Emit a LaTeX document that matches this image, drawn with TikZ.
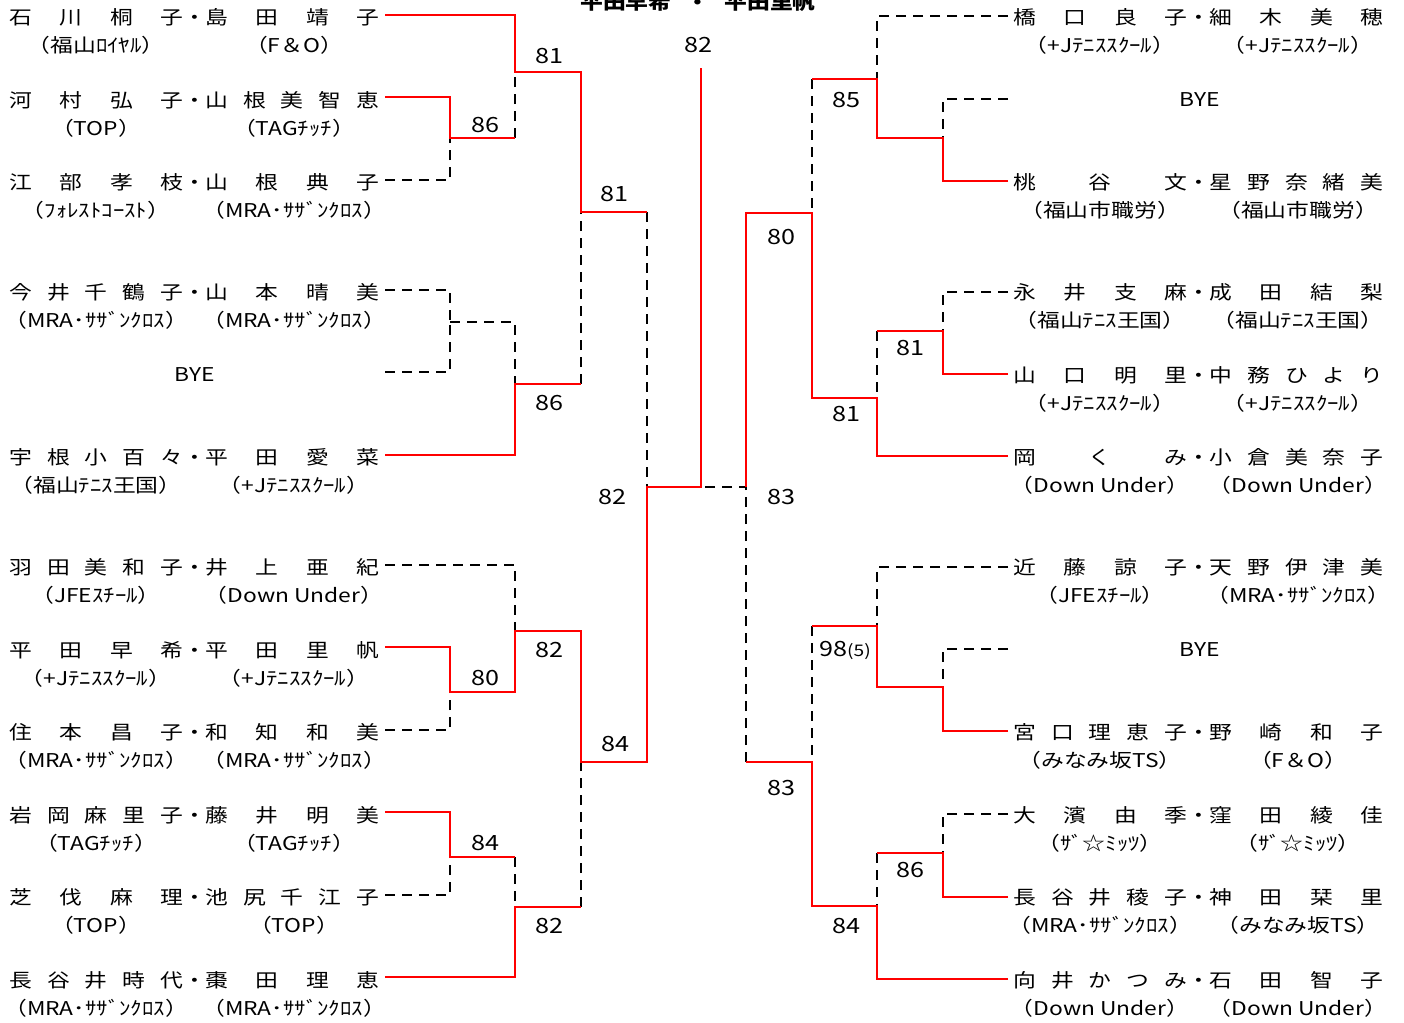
\documentclass[tikz,border=0pt]{standalone}
\usepackage{fontspec}
\setmainfont{Noto Sans CJK JP}[FakeStretch=1.2]
\usetikzlibrary{positioning}

\def\spreadnm#1{\spreadnmA#1\relax}
\def\spreadnmA#1#2{#1\ifx\relax#2\else\hfill\expandafter\spreadnmA\expandafter#2\fi}
\newcommand{\duo}[2]{\makebox[87pt][s]{\spreadnm{#1}}\makebox[11pt]{・}\makebox[87pt][s]{\spreadnm{#2}}}

\begin{document}
\begin{tikzpicture}[x=0.5pt, y=-0.5pt,
    won/.style={red, line width=1pt},
    lost/.style={black, line width=1pt, dash pattern=on 5pt off 3.5pt},
    pair/.style={anchor=west, inner sep=0pt, font=\fontsize{9.5}{10}\selectfont},
    club/.style={inner sep=0pt, font=\fontsize{9.5}{10}\selectfont},
    score/.style={inner sep=0pt, font=\fontsize{10.5}{12}\selectfont}]
  \useasboundingbox (0,0) rectangle (1404,1023);

  \node[inner sep=0pt, anchor=base, font=\fontsize{9.5}{10}\selectfont\bfseries] (title) at (698,9) {平田早希\hspace{0.8em}・\hspace{0.8em}平田里帆};

  % left half
  \node[pair] (pL1) at (9,17) {\duo{石川桐子}{島田靖子}};
  \node[club] (kL1a) at (96,45) {（福山ﾛｲﾔﾙ）};
  \node[club] (kL1b) at (294,45) {（F＆O）};
  \node[pair] (pL2) at (9,100) {\duo{河村弘子}{山根美智恵}};
  \node[club] (kL2a) at (96,128) {（TOP）};
  \node[club] (kL2b) at (294,128) {（TAGﾁｯﾁ）};
  \node[pair] (pL3) at (9,182) {\duo{江部孝枝}{山根典子}};
  \node[club] (kL3a) at (96,210) {（ﾌｫﾚｽﾄｺｰｽﾄ）};
  \node[club] (kL3b) at (294,210) {（MRA･ｻｻﾞﾝｸﾛｽ）};
  \node[pair] (pL4) at (9,292) {\duo{今井千鶴子}{山本晴美}};
  \node[club] (kL4a) at (96,320) {（MRA･ｻｻﾞﾝｸﾛｽ）};
  \node[club] (kL4b) at (294,320) {（MRA･ｻｻﾞﾝｸﾛｽ）};
  \node[club] (byeL5) at (195,375) {BYE};
  \node[pair] (pL6) at (9,457) {\duo{宇根小百々}{平田愛菜}};
  \node[club] (kL6a) at (96,485) {（福山ﾃﾆｽ王国）};
  \node[club] (kL6b) at (294,485) {（+Jﾃﾆｽｽｸｰﾙ）};
  \node[pair] (pL7) at (9,567) {\duo{羽田美和子}{井上亜紀}};
  \node[club] (kL7a) at (96,595) {（JFEｽﾁｰﾙ）};
  \node[club] (kL7b) at (294,595) {（Down Under）};
  \node[pair] (pL8) at (9,650) {\duo{平田早希}{平田里帆}};
  \node[club] (kL8a) at (96,678) {（+Jﾃﾆｽｽｸｰﾙ）};
  \node[club] (kL8b) at (294,678) {（+Jﾃﾆｽｽｸｰﾙ）};
  \node[pair] (pL9) at (9,732) {\duo{住本昌子}{和知和美}};
  \node[club] (kL9a) at (96,760) {（MRA･ｻｻﾞﾝｸﾛｽ）};
  \node[club] (kL9b) at (294,760) {（MRA･ｻｻﾞﾝｸﾛｽ）};
  \node[pair] (pL10) at (9,815) {\duo{岩岡麻里子}{藤井明美}};
  \node[club] (kL10a) at (96,843) {（TAGﾁｯﾁ）};
  \node[club] (kL10b) at (294,843) {（TAGﾁｯﾁ）};
  \node[pair] (pL11) at (9,897) {\duo{芝伐麻理}{池尻千江子}};
  \node[club] (kL11a) at (96,925) {（TOP）};
  \node[club] (kL11b) at (294,925) {（TOP）};
  \node[pair] (pL12) at (9,980) {\duo{長谷井時代}{棗田理恵}};
  \node[club] (kL12a) at (96,1008) {（MRA･ｻｻﾞﾝｸﾛｽ）};
  \node[club] (kL12b) at (294,1008) {（MRA･ｻｻﾞﾝｸﾛｽ）};

  % right half
  \node[pair] (pR1) at (1013,17) {\duo{橋口良子}{細木美穂}};
  \node[club] (kR1a) at (1100,45) {（+Jﾃﾆｽｽｸｰﾙ）};
  \node[club] (kR1b) at (1298,45) {（+Jﾃﾆｽｽｸｰﾙ）};
  \node[club] (byeR2) at (1200,100) {BYE};
  \node[pair] (pR3) at (1013,182) {\duo{桃谷文}{星野奈緒美}};
  \node[club] (kR3a) at (1100,210) {（福山市職労）};
  \node[club] (kR3b) at (1298,210) {（福山市職労）};
  \node[pair] (pR4) at (1013,292) {\duo{永井支麻}{成田結梨}};
  \node[club] (kR4a) at (1100,320) {（福山ﾃﾆｽ王国）};
  \node[club] (kR4b) at (1298,320) {（福山ﾃﾆｽ王国）};
  \node[pair] (pR5) at (1013,375) {\duo{山口明里}{中務ひより}};
  \node[club] (kR5a) at (1100,403) {（+Jﾃﾆｽｽｸｰﾙ）};
  \node[club] (kR5b) at (1298,403) {（+Jﾃﾆｽｽｸｰﾙ）};
  \node[pair] (pR6) at (1013,457) {\duo{岡くみ}{小倉美奈子}};
  \node[club] (kR6a) at (1100,485) {（Down Under）};
  \node[club] (kR6b) at (1298,485) {（Down Under）};
  \node[pair] (pR7) at (1013,567) {\duo{近藤諒子}{天野伊津美}};
  \node[club] (kR7a) at (1100,595) {（JFEｽﾁｰﾙ）};
  \node[club] (kR7b) at (1298,595) {（MRA･ｻｻﾞﾝｸﾛｽ）};
  \node[club] (byeR8) at (1200,650) {BYE};
  \node[pair] (pR9) at (1013,732) {\duo{宮口理恵子}{野崎和子}};
  \node[club] (kR9a) at (1100,760) {（みなみ坂TS）};
  \node[club] (kR9b) at (1298,760) {（F＆O）};
  \node[pair] (pR10) at (1013,815) {\duo{大濱由季}{窪田綾佳}};
  \node[club] (kR10a) at (1100,843) {（ｻﾞ☆ﾐｯﾂ）};
  \node[club] (kR10b) at (1298,843) {（ｻﾞ☆ﾐｯﾂ）};
  \node[pair] (pR11) at (1013,897) {\duo{長谷井稜子}{神田栞里}};
  \node[club] (kR11a) at (1100,925) {（MRA･ｻｻﾞﾝｸﾛｽ）};
  \node[club] (kR11b) at (1298,925) {（みなみ坂TS）};
  \node[pair] (pR12) at (1013,980) {\duo{向井かつみ}{石田智子}};
  \node[club] (kR12a) at (1100,1008) {（Down Under）};
  \node[club] (kR12b) at (1298,1008) {（Down Under）};

  % line ends and match points
  \coordinate (l1) at (385,15);   \coordinate (l2) at (385,97);   \coordinate (l3) at (385,180);
  \coordinate (l4) at (385,290);  \coordinate (l5) at (385,372);  \coordinate (l6) at (385,455);
  \coordinate (l7) at (385,565);  \coordinate (l8) at (385,647);  \coordinate (l9) at (385,730);
  \coordinate (l10) at (385,812); \coordinate (l11) at (385,895); \coordinate (l12) at (385,977);
  \coordinate (r1) at (1008,16);   \coordinate (r2) at (1008,99);   \coordinate (r3) at (1008,181);
  \coordinate (r4) at (1008,292);  \coordinate (r5) at (1008,374);  \coordinate (r6) at (1008,456);
  \coordinate (r7) at (1008,567);  \coordinate (r8) at (1008,649);  \coordinate (r9) at (1008,731);
  \coordinate (r10) at (1008,814); \coordinate (r11) at (1008,897); \coordinate (r12) at (1008,979);

  \coordinate (mA) at (450,138); \coordinate (mB) at (515,72);  \coordinate (mC) at (450,322);
  \coordinate (mD) at (515,384); \coordinate (mE) at (581,212); \coordinate (mF) at (450,692);
  \coordinate (mG) at (515,631); \coordinate (mH) at (450,857); \coordinate (mI) at (515,907);
  \coordinate (mJ) at (581,762); \coordinate (mK) at (647,487);
  \coordinate (nA) at (943,138); \coordinate (nB) at (877,79);  \coordinate (nC) at (943,331);
  \coordinate (nD) at (877,398); \coordinate (nE) at (812,213); \coordinate (nF) at (943,687);
  \coordinate (nG) at (877,626); \coordinate (nH) at (943,853); \coordinate (nI) at (877,906);
  \coordinate (nJ) at (812,762); \coordinate (nK) at (746,487);
  \coordinate (fin) at (701,487); \coordinate (champ) at (701,68);

  % beaten
  \draw[lost] (l3) -| (mA);
  \draw[lost] (mA -| mB) -- (mB);
  \draw[lost] (l4) -| (mC);
  \draw[lost] (l5) -| (mC);
  \draw[lost] (mC) -- (mC -| mD) -- (mD);
  \draw[lost] (mD -| mE) -- (mE);
  \draw[lost] (mE -| mK) -- (mK);
  \draw[lost] (l7) -| (mG);
  \draw[lost] (l9) -| (mF);
  \draw[lost] (l11) -| (mH);
  \draw[lost] (mH -| mI) -- (mI);
  \draw[lost] (mI -| mJ) -- (mJ);
  \draw[lost] (r1) -| (nB);
  \draw[lost] (r2) -| (nA);
  \draw[lost] (nB -| nE) -- (nE);
  \draw[lost] (r4) -| (nC);
  \draw[lost] (nC -| nD) -- (nD);
  \draw[lost] (r7) -| (nG);
  \draw[lost] (r8) -| (nF);
  \draw[lost] (nG -| nJ) -- (nJ);
  \draw[lost] (r10) -| (nH);
  \draw[lost] (nH -| nI) -- (nI);
  \draw[lost] (nJ -| nK) -- (nK) -- (fin);

  % winners
  \draw[won] (l2) -| (mA) -- (mA -| mB);
  \draw[won] (l1) -| (mB) -| (mE) -- (mE -| mK);
  \draw[won] (l6) -| (mD) -- (mD -| mE);
  \draw[won] (l8) -| (mF) -| (mG) -| (mJ) -| (mK) -- (fin) -- (champ);
  \draw[won] (l10) -| (mH) -- (mH -| mI);
  \draw[won] (l12) -| (mI) -- (mI -| mJ);
  \draw[won] (r3) -| (nA) -| (nB) -- (nB -| nE);
  \draw[won] (r5) -| (nC) -- (nC -| nD);
  \draw[won] (r6) -| (nD) -| (nE) -| (nK);
  \draw[won] (r9) -| (nF) -| (nG) -- (nG -| nJ);
  \draw[won] (r11) -| (nH) -- (nH -| nI);
  \draw[won] (r12) -| (nI) -| (nJ) -- (nJ -| nK);

  % scores
  \node[score] (sA) at (485,125) {86};
  \node[score] (sB) at (549,56) {81};
  \node[score] (sE) at (614,194) {81};
  \node[score] (sD) at (549,403) {86};
  \node[score] (sK) at (612,497) {82};
  \node[score] (sChamp) at (698,45) {82};
  \node[score] (sF) at (485,678) {80};
  \node[score] (sG) at (549,650) {82};
  \node[score] (sJ) at (615,744) {84};
  \node[score] (sH) at (485,843) {84};
  \node[score] (sI) at (549,926) {82};
  \node[score] (tB) at (846,100) {85};
  \node[score] (tE) at (781,237) {80};
  \node[score] (tC) at (910,348) {81};
  \node[score] (tD) at (846,414) {81};
  \node[score] (tK) at (781,497) {83};
  \node[score] (tG) at (845,650) {98{\fontsize{8}{9}\selectfont(5)}};
  \node[score] (tJ) at (781,788) {83};
  \node[score] (tH) at (910,870) {86};
  \node[score] (tI) at (846,926) {84};
\end{tikzpicture}
\end{document}
